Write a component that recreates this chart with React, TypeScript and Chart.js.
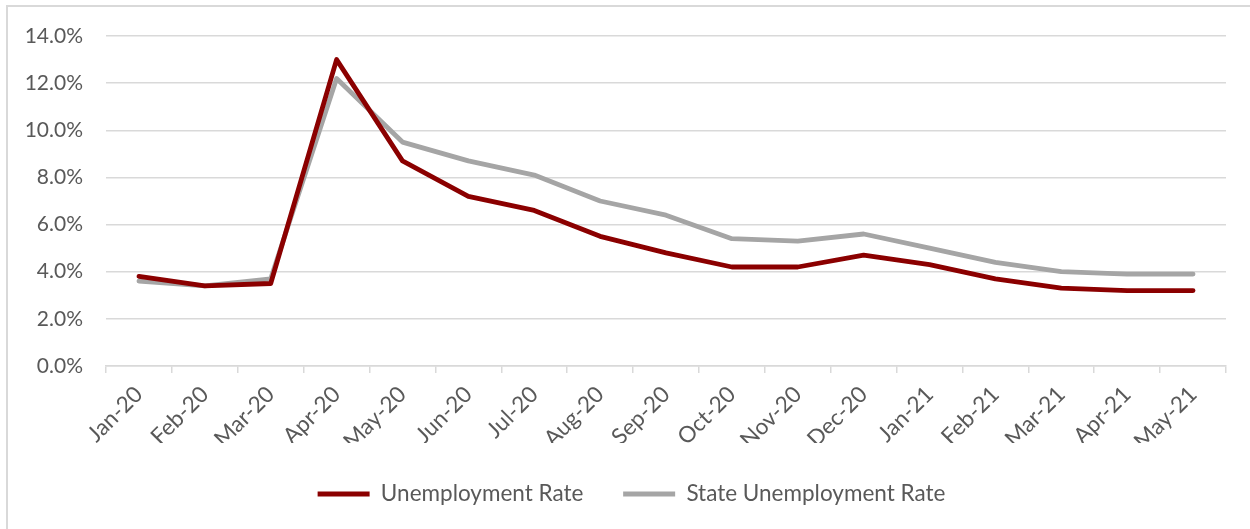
import React, { useEffect, useRef } from "react";
import { Chart, registerables } from "chart.js";

Chart.register(...registerables);

const months = [
  "Jan-20", "Feb-20", "Mar-20", "Apr-20", "May-20", "Jun-20", "Jul-20", "Aug-20",
  "Sep-20", "Oct-20", "Nov-20", "Dec-20", "Jan-21", "Feb-21", "Mar-21", "Apr-21", "May-21",
];
const unemploymentRate = [3.8, 3.4, 3.5, 13.0, 8.7, 7.2, 6.6, 5.5, 4.8, 4.2, 4.2, 4.7, 4.3, 3.7, 3.3, 3.2, 3.2];
const stateUnemploymentRate = [3.6, 3.4, 3.7, 12.2, 9.5, 8.7, 8.1, 7.0, 6.4, 5.4, 5.3, 5.6, 5.0, 4.4, 4.0, 3.9, 3.9];
const yTicks = [0, 2, 4, 6, 8, 10, 12, 14];

const TEXT = "#595959";
const GRID = "#d9d9d9";
const FONT = "Lato, 'Open Sans', sans-serif";

const legendShift = {
  id: "legendShift",
  afterLayout(chart: any) {
    if (chart.legend) {
      chart.legend.left += 8;
      chart.legend.right += 8;
    }
  },
};

export default function App() {
  const ref = useRef<HTMLCanvasElement | null>(null);

  useEffect(() => {
    if (!ref.current) return;
    const chart = new Chart(ref.current, {
      type: "line",
      data: {
        labels: months,
        datasets: [
          {
            label: "Unemployment Rate",
            data: unemploymentRate,
            borderColor: "#8b0000",
            backgroundColor: "#8b0000",
            borderWidth: 4.8,
            pointRadius: 0,
            pointStyle: "line",
            borderJoinStyle: "round",
            borderCapStyle: "round",
            tension: 0,
          },
          {
            label: "State Unemployment Rate",
            data: stateUnemploymentRate,
            borderColor: "#a5a5a5",
            backgroundColor: "#a5a5a5",
            borderWidth: 4.8,
            pointRadius: 0,
            pointStyle: "line",
            borderJoinStyle: "round",
            borderCapStyle: "round",
            tension: 0,
          },
        ],
      },
      plugins: [legendShift],
      options: {
        animation: false,
        responsive: false,
        maintainAspectRatio: false,
        layout: { padding: { top: 36, right: 24, bottom: 13.75, left: 21 } },
        plugins: {
          tooltip: { enabled: false },
          legend: {
            position: "bottom",
            labels: {
              usePointStyle: true,
              pointStyle: "line",
              pointStyleWidth: 52,
              padding: 39.75,
              color: TEXT,
              font: { family: FONT, size: 22.5 },
            },
          },
        },
        scales: {
          x: {
            offset: true,
            afterFit: (s: any) => {
              s.height = 77;
            },
            grid: {
              display: true,
              offset: true,
              drawOnChartArea: false,
              drawTicks: true,
              tickLength: 7,
              color: GRID,
              lineWidth: 1.5,
            },
            border: { display: true, color: GRID, width: 1.5 },
            ticks: {
              color: TEXT,
              font: { family: FONT, size: 22.5 },
              maxRotation: 45,
              minRotation: 45,
              autoSkip: false,
              padding: 8,
            },
          },
          y: {
            min: 0,
            max: 14,
            afterFit: (s: any) => {
              s.width = 85;
            },
            afterBuildTicks: (s: any) => {
              s.ticks = yTicks.map((v) => ({ value: v }));
            },
            grid: { color: GRID, lineWidth: 1.5, drawTicks: false },
            border: { display: false },
            ticks: {
              color: TEXT,
              font: { family: FONT, size: 21 },
              padding: 23,
              callback: (v: any) => Number(v).toFixed(1) + "%",
            },
          },
        },
      },
    });
    return () => chart.destroy();
  }, []);

  return (
    <div style={{ position: "absolute", left: 0, top: 0, width: 1250, height: 529, overflow: "hidden", background: "#fff" }}>
      <div
        style={{
          position: "absolute",
          left: 6,
          top: 5,
          width: 1300,
          height: 600,
          border: "2px solid #d9d9d9",
        }}
      />
      <canvas ref={ref} width={1250} height={529} style={{ position: "absolute", left: 0, top: 0 }} />
    </div>
  );
}
